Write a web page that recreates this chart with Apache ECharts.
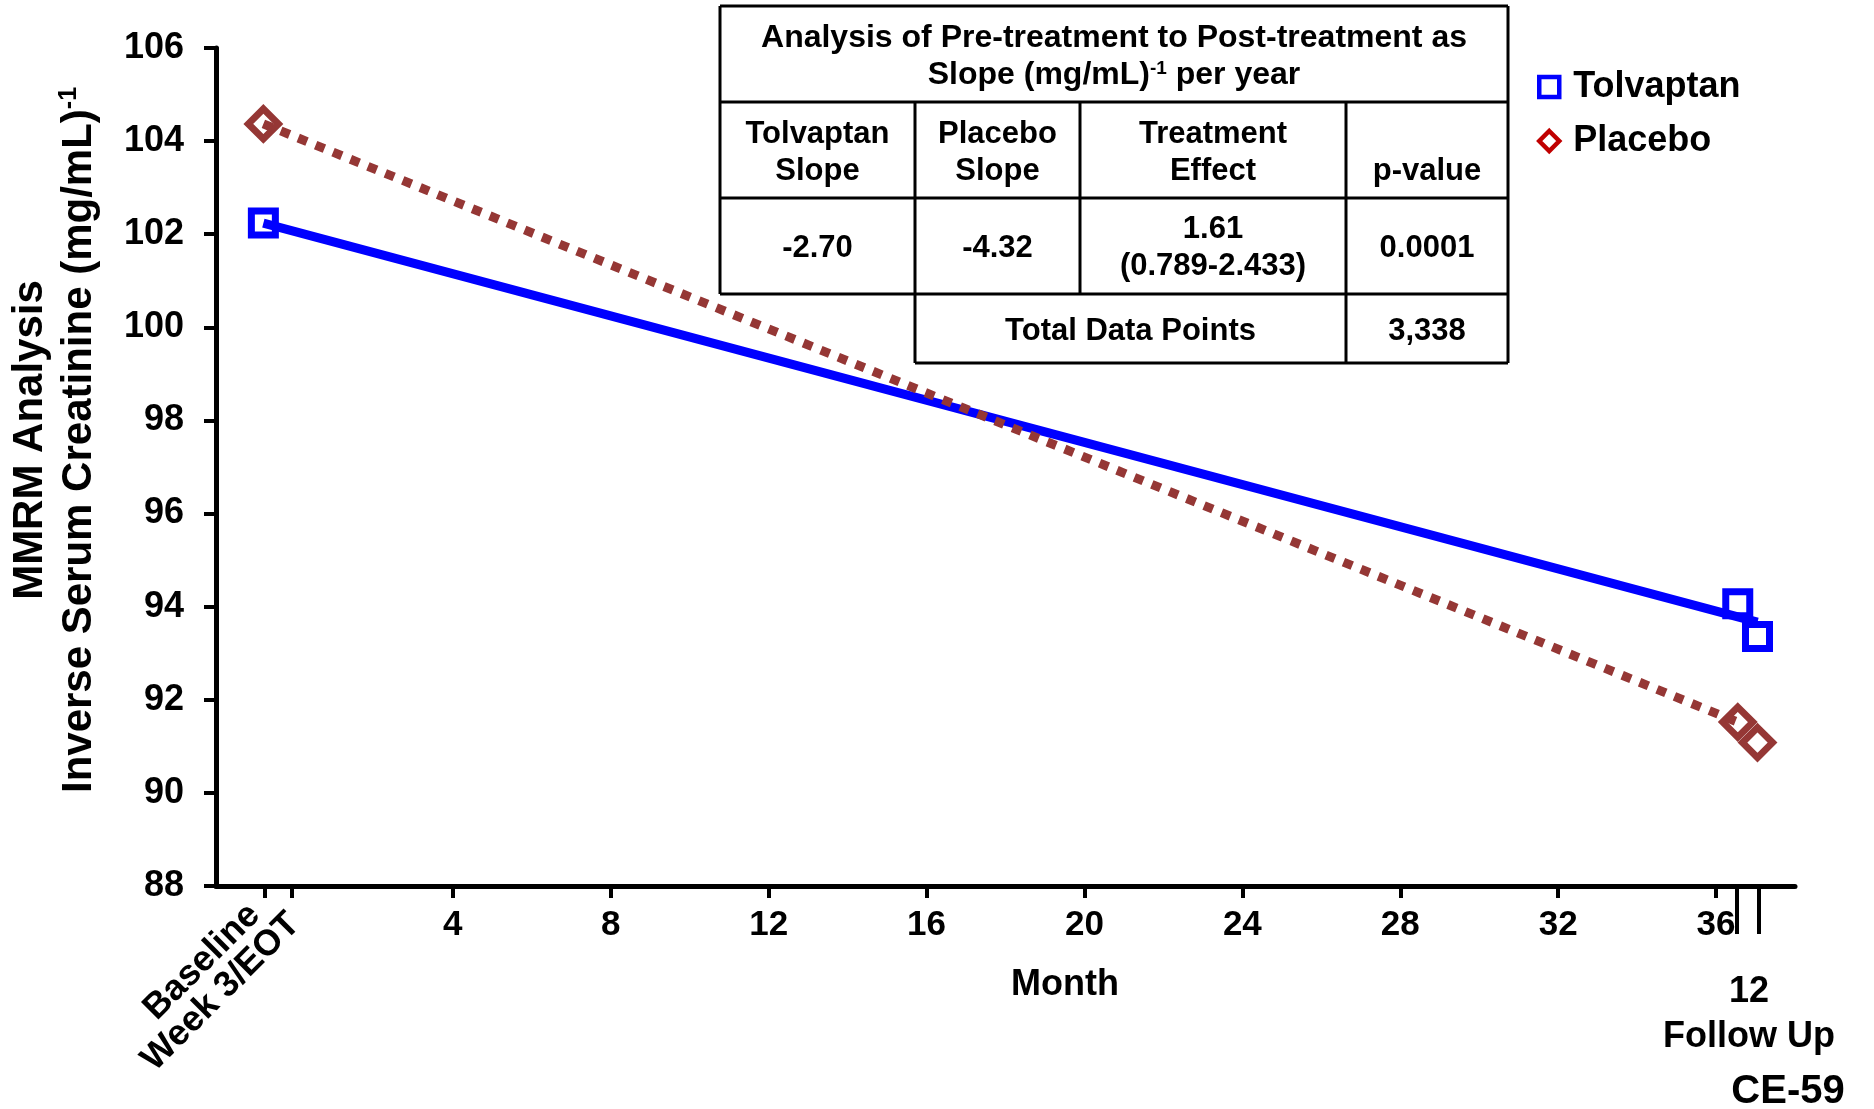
<!DOCTYPE html>
<html>
<head>
<meta charset="utf-8">
<script src="https://cdn.jsdelivr.net/npm/echarts@6/dist/echarts.min.js"></script>
<style>
html,body{margin:0;padding:0;background:#fff;}
#c{width:1874px;height:1109px;}
</style>
</head>
<body>
<div id="c"></div>
<script>
// ---------------- DATA ----------------
const seriesNames = ['Tolvaptan', 'Placebo'];
const monthTicks = [4, 8, 12, 16, 20, 24, 28, 32, 36];
const visitTicks = [-0.77, -0.07];            // Baseline, Week 3/EOT
const visitLabels = ['Baseline', 'Week 3/EOT'];
const followUpTicks = [36.53, 37.07];
const followUpLabels = ['12', 'Follow Up'];
const yMin = 88, yMax = 106, yStep = 2;

const tolvaptanPoints = [[-0.8, 102.24], [36.55, 94.06], [37.05, 93.36]];
const placeboPoints   = [[-0.8, 104.37], [36.55, 91.52], [37.05, 91.08]];
const tolvaptanSlope  = [[-0.8, 102.24], [37.05, 93.67]];
const placeboSlope    = [[-0.8, 104.37], [36.55, 91.52]];

const yTitleLines = ['MMRM Analysis', 'Inverse Serum Creatinine (mg/mL)'];
const yTitleSup = '-1';
const xTitle = 'Month';
const footnote = 'CE-59';

const tableTitleLine1 = 'Analysis of Pre-treatment to Post-treatment as';
const tableTitleLine2 = ['Slope (mg/mL)', '-1', ' per year'];
const tableHeaders = [['Tolvaptan', 'Slope'], ['Placebo', 'Slope'], ['Treatment', 'Effect'], ['', 'p-value']];
const tableValues  = [['-2.70'], ['-4.32'], ['1.61', '(0.789-2.433)'], ['0.0001']];
const totalLabel = 'Total Data Points';
const totalValue = '3,338';

// ---------------- STYLE / LAYOUT ----------------
const FONT = "'Liberation Sans', Arial, Helvetica, sans-serif";
const BLUE = '#0000FF', BROWN = '#953735', RED = '#C00000';

const chart = echarts.init(document.getElementById('c'));

function txt(x, y, text, size, extra) {
  return Object.assign({
    type: 'text', x: x, y: y, silent: true, z: 10,
    style: Object.assign({
      text: text, fill: '#000', fontFamily: FONT, fontWeight: 'bold', fontSize: size,
      align: 'center', verticalAlign: 'middle'
    }, (extra && extra.style) || {})
  }, (extra && extra.el) || {});
}
function hline(x1, x2, y) {
  return { type: 'line', silent: true, z: 10, shape: { x1: x1, y1: y, x2: x2, y2: y }, style: { stroke: '#000', lineWidth: 3 } };
}
function vline(x, y1, y2) {
  return { type: 'line', silent: true, z: 10, shape: { x1: x, y1: y1, x2: x, y2: y2 }, style: { stroke: '#000', lineWidth: 3 } };
}

// table layout
const tCols = [720, 915, 1080, 1346, 1508];
const tRows = [6, 102, 198, 294, 363];
const colCenter = i => (tCols[i] + tCols[i + 1]) / 2;
const TF = 31;

const graphics = [];
graphics.push(hline(tCols[0], tCols[4], tRows[0]));
graphics.push(hline(tCols[0], tCols[4], tRows[1]));
graphics.push(hline(tCols[0], tCols[4], tRows[2]));
graphics.push(hline(tCols[0], tCols[4], tRows[3]));
graphics.push(hline(tCols[1], tCols[4], tRows[4]));
graphics.push(vline(tCols[0], tRows[0], tRows[3]));
graphics.push(vline(tCols[4], tRows[0], tRows[4]));
graphics.push(vline(tCols[1], tRows[1], tRows[4]));
graphics.push(vline(tCols[2], tRows[1], tRows[3]));
graphics.push(vline(tCols[3], tRows[1], tRows[4]));

const tcx = (tCols[0] + tCols[4]) / 2;
graphics.push(txt(tcx, 38, tableTitleLine1, 32));
graphics.push(txt(tcx, 75, tableTitleLine2[0] + '{s|' + tableTitleLine2[1] + '}' + tableTitleLine2[2], 32, {
  style: { lineHeight: 36, rich: { s: { fontSize: 19, fontWeight: 'bold', fontFamily: FONT, verticalAlign: 'top', lineHeight: 36, padding: [2, 0, 0, 0] } } }
}));
tableHeaders.forEach((h, i) => {
  if (h[0]) graphics.push(txt(colCenter(i), 134, h[0], TF));
  graphics.push(txt(colCenter(i), 171, h[1], TF));
});
tableValues.forEach((v, i) => {
  if (v.length === 1) graphics.push(txt(colCenter(i), 248, v[0], TF));
  else { graphics.push(txt(colCenter(i), 229, v[0], TF)); graphics.push(txt(colCenter(i), 266, v[1], TF)); }
});
graphics.push(txt((tCols[1] + tCols[3]) / 2, 331, totalLabel, TF));
graphics.push(txt(colCenter(3), 331, totalValue, TF));

// y-axis title
graphics.push(txt(55, 440, yTitleLines[0] + '\n' + yTitleLines[1] + '{s|' + yTitleSup + '}', 42, {
  el: { rotation: Math.PI / 2 },
  style: { lineHeight: 49, rich: { s: { fontSize: 25, fontWeight: 'bold', fontFamily: FONT, verticalAlign: 'top', lineHeight: 49, padding: [2, 0, 0, 0] } } }
}));
// visit labels (rotated)
graphics.push(txt(202, 962, visitLabels[0], 36, { el: { rotation: Math.PI / 4 } }));
graphics.push(txt(221, 992, visitLabels[1], 36, { el: { rotation: Math.PI / 4 } }));
// x title
graphics.push(txt(1065, 985, xTitle, 36));
// follow-up labels
graphics.push(txt(1749, 992, followUpLabels[0], 36));
graphics.push(txt(1749, 1037, followUpLabels[1], 36));
// footnote
graphics.push(txt(1788, 1092, footnote, 40));

const option = {
  animation: false,
  backgroundColor: '#fff',
  textStyle: { fontFamily: FONT, fontWeight: 'bold', color: '#000' },
  grid: { left: 216, right: 79, top: 48, bottom: 223, containLabel: false },
  xAxis: [
    {
      type: 'value', min: -2, max: 38, position: 'bottom',
      axisLine: { show: true, onZero: false, lineStyle: { color: '#000', width: 5 } },
      axisTick: { show: true, length: 12, lineStyle: { color: '#000', width: 4 }, customValues: visitTicks.concat(monthTicks) },
      axisLabel: { show: true, customValues: monthTicks, fontSize: 35, fontWeight: 'bold', color: '#000', fontFamily: FONT, margin: 22 },
      splitLine: { show: false }
    },
    {
      type: 'value', min: -2, max: 38, position: 'bottom', gridIndex: 0,
      axisLine: { show: false, onZero: false },
      axisTick: { show: true, length: 48, lineStyle: { color: '#000', width: 4 }, customValues: followUpTicks },
      axisLabel: { show: false },
      splitLine: { show: false }
    }
  ],
  yAxis: {
    type: 'value', min: yMin, max: yMax, interval: yStep,
    axisLine: { show: true, onZero: false, lineStyle: { color: '#000', width: 5 } },
    axisTick: { show: true, length: 12, lineStyle: { color: '#000', width: 4 } },
    axisLabel: { fontSize: 36, fontWeight: 'bold', color: '#000', fontFamily: FONT, margin: 32 },
    splitLine: { show: false }
  },
  legend: {
    orient: 'vertical', left: 1532, top: 64, itemWidth: 20, itemHeight: 20, itemGap: 18,
    selectedMode: false,
    textStyle: { fontSize: 36, fontWeight: 'bold', color: '#000', fontFamily: FONT, padding: [0, 0, 0, 9] },
    data: [
      { name: seriesNames[0], icon: 'rect', itemStyle: { color: '#fff', borderColor: BLUE, borderWidth: 4.5, opacity: 1 } },
      { name: seriesNames[1], icon: 'diamond', itemStyle: { color: '#fff', borderColor: RED, borderWidth: 4.5, opacity: 1 } }
    ]
  },
  series: [
    {
      name: seriesNames[0], type: 'scatter', data: tolvaptanPoints, symbol: 'rect', symbolSize: 24,
      itemStyle: { color: '#fff', borderColor: BLUE, borderWidth: 7, opacity: 1 }, z: 2, silent: true
    },
    {
      name: seriesNames[1], type: 'scatter', data: placeboPoints, symbol: 'diamond', symbolSize: 30,
      itemStyle: { color: '#fff', borderColor: BROWN, borderWidth: 7, opacity: 1 }, z: 2, silent: true
    },
    {
      name: 'Tolvaptan slope', type: 'line', data: tolvaptanSlope, symbol: 'none',
      lineStyle: { color: BLUE, width: 9 }, z: 3, silent: true
    },
    {
      name: 'Placebo slope', type: 'line', data: placeboSlope, symbol: 'none',
      lineStyle: { color: BROWN, width: 9, type: [9.5, 9.3], cap: 'butt' }, z: 3, silent: true
    }
  ],
  graphic: graphics
};
chart.setOption(option);
</script>
</body>
</html>
